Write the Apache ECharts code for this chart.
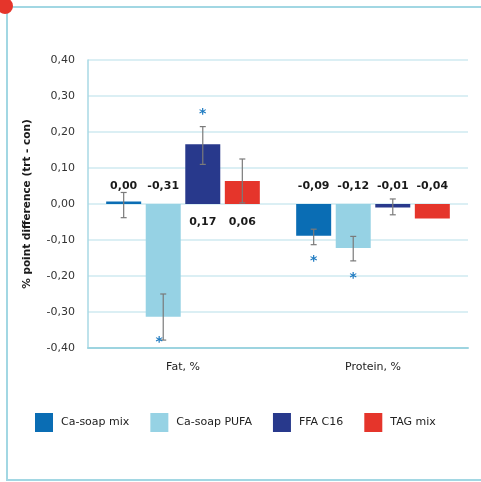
<!DOCTYPE html>
<html><head><meta charset="utf-8">
<script src="https://cdn.jsdelivr.net/npm/echarts@6/dist/echarts.min.js"></script>
<style>html,body{margin:0;padding:0;background:#fff}#c{width:481px;height:482px}</style>
</head><body><div id="c"></div>
<script>
const categories = ['Fat, %', 'Protein, %'];
const seriesNames = ['Ca-soap mix', 'Ca-soap PUFA', 'FFA C16', 'TAG mix'];
const caSoapMix = [0.00, -0.088];
const caSoapPUFA = [-0.313, -0.122];
const ffaC16 = [0.166, -0.01];
const tagMix = [0.064, -0.04];
// error bar ranges [low, high] per category
const errCaSoapMix = [[-0.038, 0.032], [-0.113, -0.07]];
const errCaSoapPUFA = [[-0.378, -0.25], [-0.158, -0.09]];
const errFfaC16 = [[0.11, 0.215], [-0.03, 0.014]];
const errTagMix = [[0.003, 0.125], null];
// significance asterisk positions (value), null = none
const starCaSoapMix = [null, -0.152];
const starCaSoapPUFA = [-0.375, -0.197];
const starFfaC16 = [0.256, null];
const starTagMix = [null, null];
const yTicks = [-0.4, -0.3, -0.2, -0.1, 0, 0.1, 0.2, 0.3, 0.4];

const colors = ['#0a6db4', '#96d2e4', '#28398c', '#e5352b'];
const values = [caSoapMix, caSoapPUFA, ffaC16, tagMix];
const errs = [errCaSoapMix, errCaSoapPUFA, errFfaC16, errTagMix];
const stars = [starCaSoapMix, starCaSoapPUFA, starFfaC16, starTagMix];

const BAR_W = 35, GAP_RATIO = 0.13;
const FONT = 'DejaVu Sans';

const fmt = v => (Math.abs(v) < 0.005 ? 0 : v).toFixed(2).replace('.', ',');

const customData = [];
for (let s = 0; s < 4; s++) {
  for (let c = 0; c < categories.length; c++) {
    const e = errs[s][c];
    customData.push([c, s, values[s][c], e ? e[0] : null, e ? e[1] : null, stars[s][c]]);
  }
}

const chart = echarts.init(document.getElementById('c'), null, {renderer: 'canvas'});

const barSeries = seriesNames.map((n, i) => ({
  name: n, type: 'bar', data: values[i], barWidth: BAR_W, barGap: (GAP_RATIO * 100) + '%',
  barMinHeight: 2.5, itemStyle: {color: colors[i]}, silent: true
}));

const customSeries = {
  type: 'custom', name: 'extras', silent: true, z: 5,
  data: customData,
  renderItem: function (params, api) {
    const c = api.value(0), s = api.value(1), v = api.value(2);
    const pitch = BAR_W * (1 + GAP_RATIO);
    const dx = (s - 1.5) * pitch;
    const base = api.coord([c, 0]);
    const x = base[0] + dx;
    const children = [];
    const lo = api.value(3), hi = api.value(4), st = api.value(5);
    if (lo != null && !isNaN(lo) && hi != null && !isNaN(hi)) {
      const pl = api.coord([c, lo]), ph = api.coord([c, hi]);
      const st2 = {stroke: '#7a7a7a', lineWidth: 1.2};
      children.push({type: 'line', shape: {x1: x, y1: pl[1], x2: x, y2: ph[1]}, style: st2});
      children.push({type: 'line', shape: {x1: x - 3, y1: pl[1], x2: x + 3, y2: pl[1]}, style: st2});
      children.push({type: 'line', shape: {x1: x - 3, y1: ph[1], x2: x + 3, y2: ph[1]}, style: st2});
    }
    if (st != null && !isNaN(st)) {
      const ps = api.coord([c, st]);
      children.push({type: 'text', x: x - (s === 1 && c === 0 ? 4 : 0), y: ps[1] + 3,
        style: {text: '*', fill: '#1f7bc1', font: 'bold 14px ' + FONT, align: 'center', verticalAlign: 'middle'}});
    }
    const above = v <= 0;
    children.push({type: 'text', x: x, y: base[1] + (above ? -18 : 18),
      style: {text: fmt(v), fill: '#1a1a1a', font: 'bold 11px ' + FONT, align: 'center', verticalAlign: 'middle'}});
    return {type: 'group', children: children};
  }
};

chart.setOption({
  animation: false,
  textStyle: {fontFamily: FONT},
  graphic: [
    {type: 'line', shape: {x1: 7, y1: 7, x2: 481, y2: 7}, style: {stroke: '#a2d7e3', lineWidth: 2}},
    {type: 'line', shape: {x1: 7, y1: 7, x2: 7, y2: 481}, style: {stroke: '#a2d7e3', lineWidth: 2}},
    {type: 'line', shape: {x1: 7, y1: 480, x2: 481, y2: 480}, style: {stroke: '#a2d7e3', lineWidth: 2}},
    {type: 'circle', shape: {cx: 5, cy: 6, r: 8}, style: {fill: '#e5352b'}}
  ],
  legend: {
    data: seriesNames, left: 35, top: 413, padding: 0, itemWidth: 18, itemHeight: 19, itemGap: 21,
    icon: 'rect', selectedMode: false,
    textStyle: {fontFamily: FONT, fontSize: 11, color: '#222', padding: [0, 0, 0, 3]}
  },
  grid: {left: 88, right: 13, top: 60, bottom: 134, containLabel: false},
  xAxis: {
    type: 'category', data: categories,
    axisLine: {onZero: false, lineStyle: {color: '#9dd4e0', width: 2}},
    axisTick: {show: false},
    axisLabel: {margin: 14, color: '#222', fontSize: 11, fontFamily: FONT},
    splitLine: {show: false}
  },
  yAxis: {
    type: 'value', min: -0.4, max: 0.4, interval: 0.1,
    name: '% point difference (trt - con)', nameLocation: 'middle', nameGap: 55,
    nameTextStyle: {fontWeight: 'bold', fontSize: 10.5, color: '#1a1a1a', fontFamily: FONT},
    axisLine: {show: true, lineStyle: {color: '#a8d9e5', width: 1.5}},
    axisTick: {show: false},
    axisLabel: {margin: 13, color: '#333', fontSize: 11, fontFamily: FONT,
      customValues: yTicks, formatter: v => fmt(v)},
    splitLine: {lineStyle: {color: '#cfeaf1', width: 1.5}}
  },
  series: barSeries.concat([customSeries])
});
</script></body></html>
